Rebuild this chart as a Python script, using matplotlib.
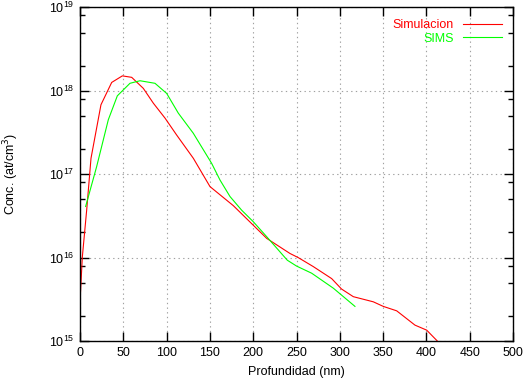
import matplotlib
matplotlib.use("Agg")
import matplotlib.pyplot as plt
from matplotlib.ticker import LogLocator, MultipleLocator, NullFormatter

plt.rcParams['font.family'] = ['Liberation Sans', 'DejaVu Sans']

# Simulacion (red)
sim_x = [0, 2.7, 7.7, 12.7, 24.2, 36.6, 48.9, 59.7, 73.1, 84.7, 98.2, 111.6, 130.9,
         150.1, 177, 200, 215.6, 242.5, 252, 269.4, 290.6, 302, 315.6, 338.7, 350.2,
         365.7, 386.8, 400.3, 412.6, 420]
sim_y = [2.95e15, 1.02e16, 3.7e16, 1.55e17, 6.8e17, 1.26e18, 1.51e18, 1.45e18, 1.07e18,
         7.1e17, 4.7e17, 2.95e17, 1.55e17, 7.1e16, 4.2e16, 2.45e16, 1.7e16, 1.12e16,
         1.0e16, 7.8e15, 5.6e15, 4.2e15, 3.4e15, 2.95e15, 2.6e15, 2.3e15, 1.55e15,
         1.35e15, 1.0e15, 7.6e14]

# SIMS (green)
sims_x = [6.5, 19.2, 32.7, 43.1, 57.7, 69.3, 86.6, 100.1, 113.5, 130.8, 152, 161.7,
          173.2, 186.7, 200, 215.6, 239.4, 250.2, 267.5, 292.5, 317.5]
sims_y = [4.1e16, 1.23e17, 4.5e17, 8.7e17, 1.23e18, 1.32e18, 1.23e18, 9.3e17, 5.4e17,
          3.1e17, 1.35e17, 8.5e16, 5.4e16, 3.7e16, 2.7e16, 1.78e16, 9.3e15, 7.9e15,
          6.5e15, 4.3e15, 2.6e15]

fig = plt.figure(figsize=(5.24, 3.79), dpi=100)
ax = fig.add_axes([80 / 524, 1 - 341 / 379, 433 / 524, (341 - 7.4) / 379])

ax.plot(sim_x, sim_y, color='#ff0000', lw=0.8, label='Simulacion')
ax.plot(sims_x, sims_y, color='#00ff00', lw=0.8, label='SIMS')

ax.set_yscale('log')
ax.set_xlim(0, 500)
ax.set_ylim(1e15, 1e19)
ax.xaxis.set_major_locator(MultipleLocator(50))
ax.yaxis.set_major_locator(LogLocator(base=10, numticks=10))
ax.yaxis.set_minor_locator(LogLocator(base=10, subs=[2, 5, 8], numticks=10))
ax.yaxis.set_minor_formatter(NullFormatter())

ax.grid(True, which='major', color='#a0a0a0', linestyle=(0, (1.2, 3)), lw=0.8)
ax.tick_params(which='both', direction='in', top=True, right=True, labelsize=9,
               width=1, color='black')
ax.tick_params(which='major', length=6.5, pad=4)
ax.tick_params(which='minor', length=3.5)
for s in ax.spines.values():
    s.set_linewidth(1)

ax.set_xlabel('Profundidad (nm)', fontsize=9, labelpad=5)
ax.set_ylabel('Conc. (at/cm$^3$)', fontsize=9, labelpad=20)

leg = ax.legend(loc='upper right', frameon=False, fontsize=9, markerfirst=False,
                handlelength=3.1, handletextpad=0.75, labelspacing=0.1,
                borderaxespad=0.3, bbox_to_anchor=(0.995, 0.99))
for txt, line in zip(leg.get_texts(), leg.get_lines()):
    txt.set_color(line.get_color())
    txt.set_ha('right')

fig.savefig('out.png', dpi=100)
